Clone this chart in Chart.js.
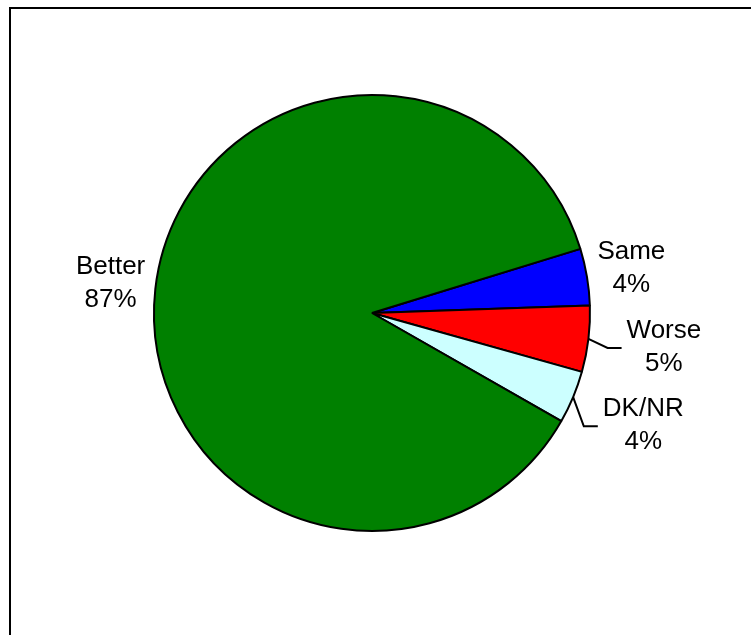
<!DOCTYPE html>
<html>
<head>
<meta charset="utf-8">
<script src="https://cdn.jsdelivr.net/npm/chart.js@4.4.0/dist/chart.umd.min.js"></script>
<style>
  html, body { margin: 0; padding: 0; background: #fff; }
  #wrap { width: 751px; height: 635px; position: relative; }
</style>
</head>
<body>
<div id="wrap"><canvas id="pieChart"></canvas></div>
<script>
const categories = ['Same', 'Worse', 'DK/NR', 'Better'];
const shares = [4.2, 4.9, 3.9, 87.0];
const pctLabels = ['4%', '5%', '4%', '87%'];
const sliceColors = ['#0000FF', '#FF0000', '#CCFFFF', '#008000'];
const hasLeader = [false, true, true, false];

// frame lines (only top and left edges are visible in the picture)
const framePlugin = {
  id: 'frame',
  beforeDraw(chart) {
    const c = chart.ctx;
    c.save();
    c.strokeStyle = '#000';
    c.lineWidth = 2;
    c.beginPath();
    c.moveTo(10, chart.height);
    c.lineTo(10, 8);
    c.lineTo(chart.width, 8);
    c.stroke();
    c.restore();
  }
};

// outside labels, with elbow leader lines for the narrow slices
const labelPlugin = {
  id: 'outLabels',
  afterDatasetsDraw(chart) {
    const c = chart.ctx;
    const arcs = chart.getDatasetMeta(0).data;
    c.save();
    c.font = '26px "Liberation Sans", Arial, sans-serif';
    c.fillStyle = '#000';
    c.textAlign = 'center';
    c.textBaseline = 'middle';
    arcs.forEach((arc, i) => {
      const {x, y, startAngle, endAngle, outerRadius} = arc.getProps(['x', 'y', 'startAngle', 'endAngle', 'outerRadius']);
      const mid = (startAngle + endAngle) / 2;
      const dist = outerRadius + (hasLeader[i] ? 76 : 45);
      const lx = x + Math.cos(mid) * dist;
      const ly = y + Math.sin(mid) * dist;
      const lines = [categories[i], pctLabels[i]];
      const lh = 33;
      lines.forEach((t, k) => {
        c.fillText(t, lx, ly + (k - 0.5) * lh - 1);
      });
      if (hasLeader[i]) {
        const w = Math.max(...lines.map(t => c.measureText(t).width));
        const left = lx - w / 2;
        c.strokeStyle = '#000';
        c.lineWidth = 2;
        c.beginPath();
        c.moveTo(x + Math.cos(mid) * outerRadius, y + Math.sin(mid) * outerRadius);
        c.lineTo(left - 19, ly);
        c.lineTo(left - 5, ly);
        c.stroke();
      }
    });
    c.restore();
  }
};

new Chart(document.getElementById('pieChart'), {
  type: 'pie',
  data: {
    labels: categories,
    datasets: [{
      data: shares,
      backgroundColor: sliceColors,
      borderColor: '#000',
      borderWidth: 2,
      radius: 218
    }]
  },
  options: {
    responsive: true,
    maintainAspectRatio: false,
    animation: false,
    rotation: 72.9,
    layout: { padding: { left: 154, right: 161, top: 95, bottom: 104 } },
    plugins: {
      legend: { display: false },
      tooltip: { enabled: false }
    }
  },
  plugins: [framePlugin, labelPlugin]
});
</script>
</body>
</html>
